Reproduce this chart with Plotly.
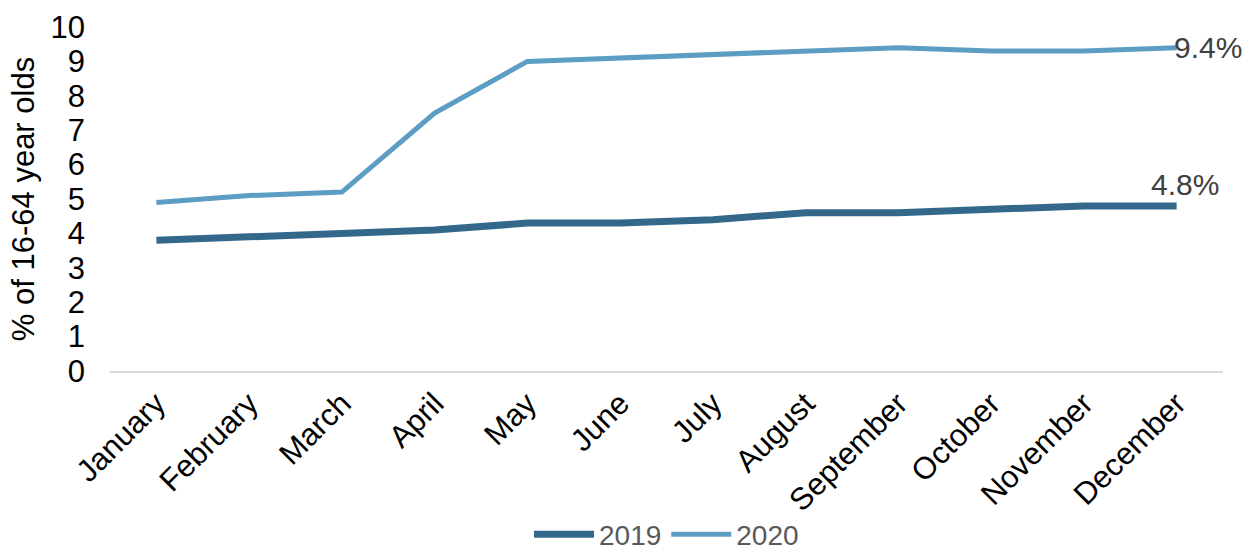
import plotly.graph_objects as go

months = ["January", "February", "March", "April", "May", "June", "July",
          "August", "September", "October", "November", "December"]
values_2019 = [3.8, 3.9, 4.0, 4.1, 4.3, 4.3, 4.4, 4.6, 4.6, 4.7, 4.8, 4.8]
values_2020 = [4.9, 5.1, 5.2, 7.5, 9.0, 9.1, 9.2, 9.3, 9.4, 9.3, 9.3, 9.4]

c2019 = "#33688A"
c2020 = "#5C9DC4"
base_font = "Liberation Sans, Arial, sans-serif"
fs = 31

fig = go.Figure()
fig.add_trace(go.Scatter(x=months, y=values_2019, name="2019", mode="lines",
                         line=dict(color=c2019, width=7)))
fig.add_trace(go.Scatter(x=months, y=values_2020, name="2020", mode="lines",
                         line=dict(color=c2020, width=5)))

# end-of-line value labels
label_font = dict(family=base_font, size=30, color="#404040")
fig.add_annotation(x=months[-1], y=values_2020[-1], text=f"{values_2020[-1]}%",
                   showarrow=False, xanchor="left", yanchor="middle", xshift=-5,
                   font=label_font)
fig.add_annotation(x=months[-1], y=values_2019[-1], text=f"{values_2019[-1]}%",
                   showarrow=False, xanchor="center", yanchor="bottom", xshift=8, yshift=3,
                   font=label_font)

fig.update_layout(
    width=1250, height=554,
    margin=dict(l=110, r=27, t=27, b=183, autoexpand=False),
    paper_bgcolor="white", plot_bgcolor="white",
    font=dict(family=base_font, size=fs, color="#000000"),
    showlegend=True,
    legend=dict(orientation="h", x=0.5, xanchor="center",
                yref="container", y=0.035, yanchor="middle",
                font=dict(size=28, color="#595959"), itemwidth=60, tracegroupgap=0),
    xaxis=dict(type="category", range=[-0.5, 11.5], tickangle=-45, automargin=False,
               showline=True, linecolor="#D9D9D9", linewidth=2,
               showgrid=False, ticks="", tickfont=dict(size=fs, color="#000000")),
    yaxis=dict(range=[0, 10], dtick=1, showgrid=False, zeroline=False, automargin=False,
               showline=False, ticks="", ticklabelstandoff=24,
               tickfont=dict(size=fs, color="#000000"),
               title=dict(text="% of 16-64 year olds", font=dict(size=fs, color="#000000"),
                          standoff=6)),
)

fig.write_html("out.html")
